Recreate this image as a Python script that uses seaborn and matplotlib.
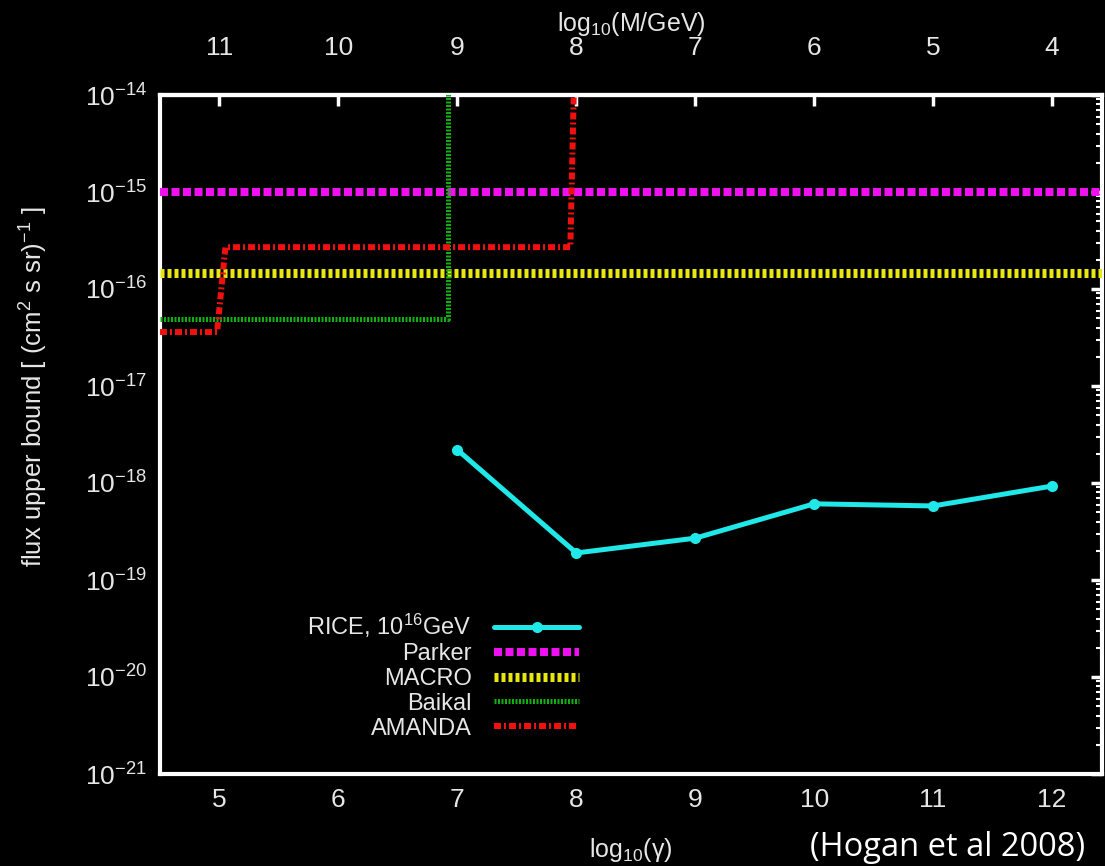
import matplotlib
matplotlib.use("Agg")
import matplotlib.pyplot as plt
import seaborn as sns
import numpy as np
import pandas as pd
from matplotlib.ticker import FixedLocator, LogFormatterSciNotation, NullFormatter

# ---------------- data ----------------
rice_gamma = [7, 8, 9, 10, 11, 12]
rice_flux = [2.2e-18, 1.9e-19, 2.7e-19, 6.1e-19, 5.8e-19, 9.3e-19]

parker_gamma = [4.5, 12.42]
parker_flux = [1.0e-15, 1.0e-15]

macro_gamma = [4.5, 12.42]
macro_flux = [1.45e-16, 1.45e-16]

baikal_gamma = [4.5, 6.92, 6.92]
baikal_flux = [4.9e-17, 4.9e-17, 1.2e-14]

amanda_gamma = [4.5, 4.98, 5.05, 7.95, 7.98]
amanda_flux = [3.6e-17, 3.6e-17, 2.7e-16, 2.7e-16, 1.2e-14]

bottom_ticks = [5, 6, 7, 8, 9, 10, 11, 12]
top_ticks = [11, 10, 9, 8, 7, 6, 5, 4]
y_decades = [-21, -20, -19, -18, -17, -16, -15, -14]

# ---------------- style ----------------
sns.set_style("dark", {"axes.facecolor": "black", "figure.facecolor": "black"})
plt.rcParams["font.family"] = ["Liberation Sans", "DejaVu Sans"]
plt.rcParams["mathtext.fontset"] = "custom"
plt.rcParams["mathtext.rm"] = "Liberation Sans"
plt.rcParams["mathtext.it"] = "Liberation Sans"
plt.rcParams["lines.scale_dashes"] = False
TXT = "#e6e6e6"

fig = plt.figure(figsize=(11.05, 8.66), dpi=100, facecolor="black")
ax = fig.add_axes([160 / 1105, 92 / 866, 942 / 1105, 679 / 866])
ax.set_facecolor("black")

px = 0.72  # points per pixel at dpi 100

def df(x, y):
    return pd.DataFrame({"x": x, "y": y})

sns.lineplot(data=df(parker_gamma, parker_flux), x="x", y="y", ax=ax, sort=False,
             estimator=None, color="#ee10ee", lw=8 * px, label="Parker",
             dashes=False, zorder=3)
sns.lineplot(data=df(macro_gamma, macro_flux), x="x", y="y", ax=ax, sort=False,
             estimator=None, color="#e8e810", lw=9 * px, label="MACRO",
             dashes=False, zorder=3)
sns.lineplot(data=df(baikal_gamma, baikal_flux), x="x", y="y", ax=ax, sort=False,
             estimator=None, color="#10b010", lw=5 * px, label="Baikal",
             dashes=False, zorder=4)
sns.lineplot(data=df(amanda_gamma, amanda_flux), x="x", y="y", ax=ax, sort=False,
             estimator=None, color="#f01010", lw=6 * px, label="AMANDA",
             dashes=False, zorder=5)
sns.lineplot(data=df(rice_gamma, rice_flux), x="x", y="y", ax=ax, sort=False,
             estimator=None, color="#20e8e8", lw=5 * px, marker="o", ms=8,
             markeredgewidth=0, label=r"RICE, 10$^{16}$GeV", zorder=6)

lines = ax.get_lines()
dash_patterns = [
    (0, (8 * px, 3.5 * px)),                      # Parker
    (0, (4 * px, 3 * px)),                        # MACRO
    (0, (2 * px, 1.5 * px)),                      # Baikal
    (0, (7 * px, 3 * px, 2 * px, 3 * px)),        # AMANDA
]
for ln, ls in zip(lines[:4], dash_patterns):
    ln.set_linestyle(ls)
    ln.set_dash_capstyle("butt")

ax.set_yscale("log")
ax.set_xlim(4.5, 12.42)
ax.set_ylim(1e-21, 1e-14)

# ticks (only inside the visible range)
major_y = [10.0 ** d for d in y_decades]
minor_y = [m * 10.0 ** d for d in y_decades[:-1] for m in range(2, 10)]
ax.xaxis.set_major_locator(FixedLocator(bottom_ticks))
ax.yaxis.set_major_locator(FixedLocator(major_y))
ax.yaxis.set_major_formatter(LogFormatterSciNotation())
ax.yaxis.set_minor_locator(FixedLocator(minor_y))
ax.yaxis.set_minor_formatter(NullFormatter())
ax.tick_params(axis="both", which="major", direction="in", length=8, width=2.5,
               color="white", labelcolor=TXT, labelsize=19, right=True, top=False)
ax.tick_params(axis="y", which="minor", direction="in", length=4, width=1.5,
               color="white", right=True, labelleft=False, labelright=False)
ax.tick_params(axis="x", which="major", pad=10)
ax.tick_params(axis="y", which="major", pad=9)
ax.grid(False)

for s in ax.spines.values():
    s.set_color("white")
    s.set_linewidth(3)
    s.set_visible(True)

secax = ax.secondary_xaxis("top", functions=(lambda v: 16 - v, lambda v: 16 - v))
secax.xaxis.set_major_locator(FixedLocator(top_ticks))
secax.tick_params(direction="in", length=8, width=2.5, color="white",
                  labelcolor=TXT, labelsize=19, pad=25)
secax.spines["top"].set_color("white")
secax.spines["top"].set_linewidth(3)
secax.set_xlabel(r"log$_{10}$(M/GeV)", color=TXT, fontsize=18, labelpad=4)

ax.set_xlabel(r"log$_{10}$($\gamma$)", color=TXT, fontsize=18, labelpad=17)
ax.set_ylabel(r"flux upper bound [ (cm$^2$ s sr)$^{-1}$ ]", color=TXT, fontsize=18.5)
ax.yaxis.set_label_coords(-0.117, 0.57)

# legend: labels right-aligned, samples on the right
handles, labels = ax.get_legend_handles_labels()
order = [4, 0, 1, 2, 3]
leg = ax.legend([handles[i] for i in order], [labels[i] for i in order],
                loc="upper right", bbox_to_anchor=(579 / 1105, (866 - 612) / 866),
                bbox_transform=fig.transFigure, markerfirst=False, frameon=False,
                fontsize=17, labelcolor=TXT, handlelength=3.6, handletextpad=0.95,
                labelspacing=0.12, borderpad=0, borderaxespad=0)
for lh, ls in zip(leg.get_lines()[1:], dash_patterns):
    lh.set_linestyle(ls)

fig.text(1085 / 1105, (866 - 848) / 866, "(Hogan et al 2008)", color="white",
         fontsize=23.5, family=["Open Sans", "DejaVu Sans"], ha="right", va="center")

fig.savefig("out.png", dpi=100, facecolor="black")
